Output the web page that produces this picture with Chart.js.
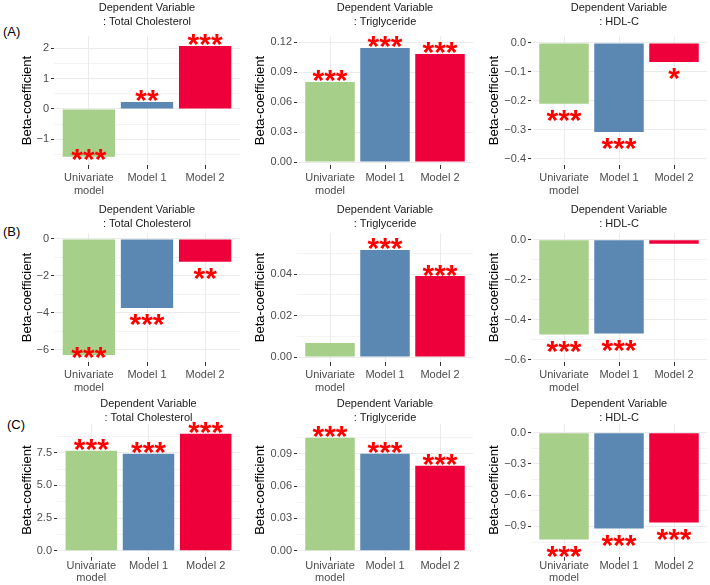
<!DOCTYPE html>
<html>
<head>
<meta charset="utf-8">
<script src="https://cdn.jsdelivr.net/npm/chart.js@4.4.0/dist/chart.umd.min.js"></script>
<style>
  body { margin: 0; background: #fff; }
  #wrap { position: relative; width: 710px; height: 585px; overflow: hidden; font-family: "Liberation Sans", Arial, sans-serif; }
  #wrap canvas { position: absolute; }
  .tag { position: absolute; font-size: 13px; line-height: 15px; color: #000; }
</style>
</head>
<body>
<div id="wrap">
  <div class="tag" style="left:3px;top:24px">(A)</div>
  <div class="tag" style="left:3px;top:224px">(B)</div>
  <div class="tag" style="left:7px;top:417px">(C)</div>
</div>
<script>
/* Data */
const categories = [['Univariate', 'model'], 'Model 1', 'Model 2'];
const barColors = ['#A6CF8A', '#5B87B3', '#EE003B'];

// (A)
const aTotalChol = [-1.58, 0.23, 2.08];
const aTriglyceride = [0.080, 0.114, 0.108];
const aHdl = [-0.210, -0.307, -0.066];
const aTotalCholSig = ['***', '**', '***'];
const aTriglycerideSig = ['***', '***', '***'];
const aHdlSig = ['***', '***', '*'];
const aTotalCholTicks = ['−1', '0', '1', '2'];
const aTriglycerideTicks = ['0.00', '0.03', '0.06', '0.09', '0.12'];
const aHdlTicks = ['−0.4', '−0.3', '−0.2', '−0.1', '0.0'];

// (B)
const bTotalChol = [-6.27, -3.73, -1.24];
const bTriglyceride = [0.0067, 0.0516, 0.0390];
const bHdl = [-0.473, -0.468, -0.020];
const bTotalCholSig = ['***', '***', '**'];
const bTriglycerideSig = ['', '***', '***'];
const bHdlSig = ['***', '***', ''];
const bTotalCholTicks = ['−6', '−4', '−2', '0'];
const bTriglycerideTicks = ['0.00', '0.02', '0.04'];
const bHdlTicks = ['−0.6', '−0.4', '−0.2', '0.0'];

// (C)
const cTotalChol = [7.65, 7.42, 8.95];
const cTriglyceride = [0.105, 0.090, 0.079];
const cHdl = [-1.026, -0.920, -0.863];
const cTotalCholSig = ['***', '***', '***'];
const cTriglycerideSig = ['***', '***', '***'];
const cHdlSig = ['***', '***', '***'];
const cTotalCholTicks = ['0.0', '2.5', '5.0', '7.5'];
const cTriglycerideTicks = ['0.00', '0.03', '0.06', '0.09'];
const cHdlTicks = ['−0.9', '−0.6', '−0.3', '0.0'];

const titleChol = ['Dependent Variable', ': Total Cholesterol'];
const titleTg = ['Dependent Variable', ': Triglyceride'];
const titleHdl = ['Dependent Variable', ': HDL-C'];

/* Layout (pixels) */
const rowLayout = [
  { titleY: 8.3, plotTop: 36, plotBottom: 165, labelPad: 2, labelLH: 1.2 },
  { titleY: 210, plotTop: 233, plotBottom: 362, labelPad: 2, labelLH: 1.2 },
  { titleY: 404.3, plotTop: 424, plotBottom: 557, labelPad: 0, labelLH: 1.05 }
];
const colLayout = [
  { left: 0, plotLeft: 54, plotRight: 240, yTitleX: 27 },
  { left: 238, plotLeft: 297, plotRight: 473, yTitleX: 260 },
  { left: 474, plotLeft: 531, plotRight: 707, yTitleX: 494.5 }
];

const panels = [
  { row: 0, col: 0, title: titleChol, values: aTotalChol, sig: aTotalCholSig, ticks: aTotalCholTicks, range: [-1.85, 2.41] },
  { row: 0, col: 1, title: titleTg, values: aTriglyceride, sig: aTriglycerideSig, ticks: aTriglycerideTicks, range: [-0.003, 0.126] },
  { row: 0, col: 2, title: titleHdl, values: aHdl, sig: aHdlSig, ticks: aHdlTicks, range: [-0.421, 0.024] },
  { row: 1, col: 0, title: titleChol, values: bTotalChol, sig: bTotalCholSig, ticks: bTotalCholTicks, range: [-6.65, 0.32] },
  { row: 1, col: 1, title: titleTg, values: bTriglyceride, sig: bTriglycerideSig, ticks: bTriglycerideTicks, range: [-0.0024, 0.0598] },
  { row: 1, col: 2, title: titleHdl, values: bHdl, sig: bHdlSig, ticks: bHdlTicks, range: [-0.61, 0.034] },
  { row: 2, col: 0, title: titleChol, values: cTotalChol, sig: cTotalCholSig, ticks: cTotalCholTicks, range: [-0.46, 9.72], plotLeft: 57 },
  { row: 2, col: 1, title: titleTg, values: cTriglyceride, sig: cTriglycerideSig, ticks: cTriglycerideTicks, range: [-0.0056, 0.118] },
  { row: 2, col: 2, title: titleHdl, values: cHdl, sig: cHdlSig, ticks: cHdlTicks, range: [-1.19, 0.086] }
];

Chart.defaults.font.family = '"Liberation Sans", Arial, sans-serif';

const toNum = s => parseFloat(s.replace('−', '-'));

// centre the panel title over the plot area, like ggplot does
const centerTitle = {
  id: 'centerTitle',
  afterLayout(chart) {
    const t = chart.titleBlock;
    if (t) {
      t.left = chart.chartArea.left;
      t.right = chart.chartArea.right;
    }
  }
};

// significance stars at the end of each bar
const STAR_SIZE = 30;
const starPlugin = {
  id: 'stars',
  afterDatasetsDraw(chart) {
    const ds = chart.data.datasets[0];
    const meta = chart.getDatasetMeta(0);
    const area = chart.chartArea;
    const ctx = chart.ctx;
    ctx.save();
    ctx.font = 'bold ' + STAR_SIZE + 'px "Liberation Sans", Arial, sans-serif';
    ctx.fillStyle = '#FF0000';
    ctx.textAlign = 'center';
    ctx.textBaseline = 'alphabetic';
    meta.data.forEach(function (bar, i) {
      const s = ds.sig[i];
      if (!s) return;
      const v = ds.data[i].y;
      let cy = v >= 0 ? bar.y - 9 : bar.y + 9;
      if (v < 0 && cy + 5 > area.bottom) cy = bar.y - 5;
      ctx.fillText(s, bar.x, cy + 0.58 * STAR_SIZE);
    });
    ctx.restore();
  }
};

const wrap = document.getElementById('wrap');
const TITLE_LH = 11 * 1.27;

panels.forEach(function (p) {
  const r = rowLayout[p.row];
  const c = colLayout[p.col];
  const plotLeft = p.plotLeft || c.plotLeft;
  const canvasTop = Math.max(0, r.titleY - TITLE_LH / 2 - 2);
  const padTop = r.titleY - TITLE_LH / 2 - canvasTop;
  const padBottom = r.plotTop - canvasTop - padTop - 2 * TITLE_LH;
  const height = Math.round(r.plotBottom - canvasTop + 36);
  const width = c.plotRight - c.left;
  const xAxisH = height - (r.plotBottom - canvasTop);

  const canvas = document.createElement('canvas');
  canvas.width = width;
  canvas.height = height;
  canvas.style.left = c.left + 'px';
  canvas.style.top = canvasTop + 'px';
  wrap.appendChild(canvas);

  const majors = p.ticks.map(toNum);
  const step = majors[1] - majors[0];

  new Chart(canvas, {
    type: 'bar',
    data: {
      datasets: [{
        data: p.values.map((v, i) => ({ x: i + 1, y: v })),
        sig: p.sig,
        backgroundColor: barColors,
        borderWidth: 0,
        barPercentage: 0.9,
        categoryPercentage: 1
      }]
    },
    options: {
      responsive: false,
      animation: false,
      layout: { padding: 0 },
      plugins: {
        legend: { display: false },
        tooltip: { enabled: false },
        title: {
          display: true,
          text: p.title,
          color: '#1A1A1A',
          font: { size: 11, weight: 'normal', lineHeight: 1.27 },
          padding: { top: padTop, bottom: padBottom }
        }
      },
      scales: {
        x: {
          type: 'linear',
          offset: false,
          min: 0.4,
          max: 3.6,
          afterBuildTicks(scale) {
            scale.ticks = categories.map((_, i) => ({ value: i + 1 }));
          },
          afterFit(scale) { scale.height = xAxisH; },
          ticks: {
            callback: v => categories[v - 1],
            color: '#4D4D4D',
            font: { size: 11, lineHeight: r.labelLH },
            padding: r.labelPad,
            maxRotation: 0,
            autoSkip: false
          },
          grid: { color: '#EBEBEB', lineWidth: 1, tickLength: 4, tickColor: '#333333', offset: false },
          border: { display: false }
        },
        y: {
          min: p.range[0],
          max: p.range[1],
          afterBuildTicks(scale) {
            const list = [];
            majors.forEach(function (m) {
              list.push({ value: m, isMajor: true });
            });
            majors.concat([majors[majors.length - 1] + step]).forEach(function (m) {
              const h = m - step / 2;
              if (h >= p.range[0] && h <= p.range[1]) list.push({ value: h, isMajor: false });
            });
            const below = majors[0] - step;
            if (below >= p.range[0]) list.push({ value: below, isMajor: true });
            list.sort((a, b) => a.value - b.value);
            scale.ticks = list;
          },
          afterFit(scale) { scale.width = plotLeft - c.left; },
          ticks: {
            callback: function (v) {
              const k = majors.findIndex(m => Math.abs(m - v) < step / 100);
              return k >= 0 ? p.ticks[k] : '';
            },
            color: '#4D4D4D',
            font: { size: 11 },
            padding: 2
          },
          grid: {
            color: '#EBEBEB',
            lineWidth: ctx => (ctx.tick && ctx.tick.isMajor ? 1 : 0.6),
            tickLength: 3,
            tickColor: ctx => (ctx.tick && ctx.tick.isMajor ? '#333333' : 'rgba(0,0,0,0)')
          },
          border: { display: false },
          title: {
            display: true,
            text: 'Beta-coefficient',
            color: '#000000',
            font: { size: 13 },
            padding: { top: c.yTitleX - c.left - 6.5 * 1.2, bottom: 0 }
          }
        }
      }
    },
    plugins: [centerTitle, starPlugin]
  });
});
</script>
</body>
</html>
